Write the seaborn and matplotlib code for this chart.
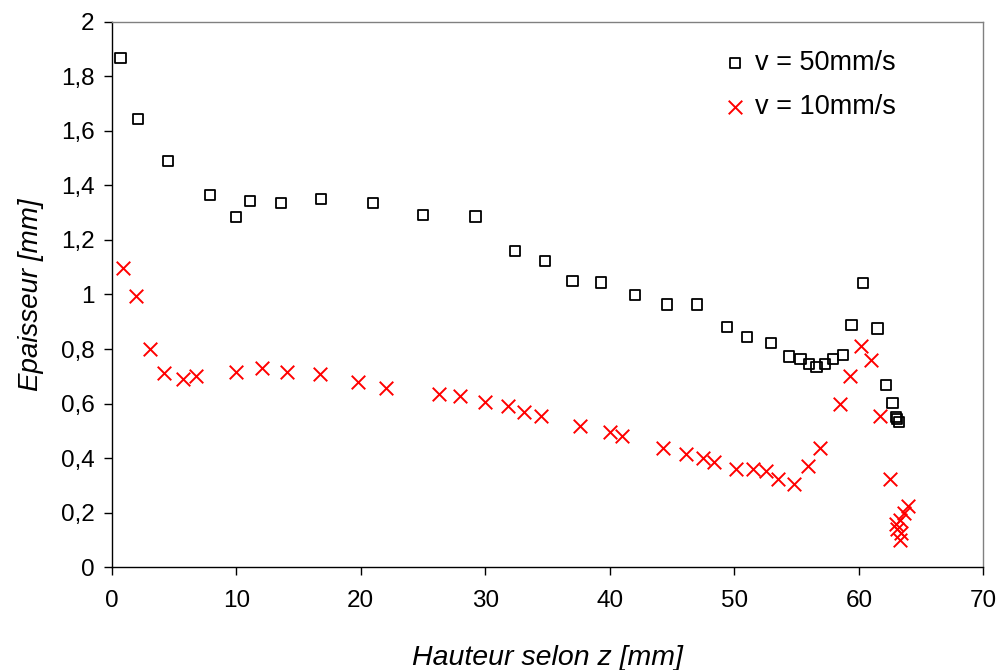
import numpy as np
import pandas as pd
import matplotlib
matplotlib.use("Agg")
import matplotlib.pyplot as plt
import seaborn as sns

# Series v = 50 mm/s (squares)
x50 = [0.7, 2.1, 4.5, 7.9, 10.0, 11.1, 13.6, 16.8, 21.0, 25.0, 29.2, 32.4, 34.8, 37.0,
       39.3, 42.0, 44.6, 47.0, 49.4, 51.0, 52.95, 54.4, 55.3, 56.0, 56.6, 57.3, 57.9,
       58.7, 59.4, 60.3, 61.5, 62.2, 62.7, 62.95, 63.05, 63.2]
y50 = [1.868, 1.644, 1.49, 1.365, 1.284, 1.343, 1.336, 1.35, 1.336, 1.292, 1.286, 1.16,
       1.123, 1.05, 1.044, 0.998, 0.963, 0.963, 0.882, 0.845, 0.823, 0.772, 0.763, 0.744,
       0.735, 0.744, 0.763, 0.779, 0.888, 1.043, 0.875, 0.668, 0.603, 0.55, 0.542, 0.532]

# Series v = 10 mm/s (crosses)
x10 = [0.93, 1.93, 3.08, 4.2, 5.75, 6.75, 9.96, 12.05, 14.1, 16.7, 19.8, 22.0, 26.3,
       27.95, 30.0, 31.8, 33.1, 34.5, 37.6, 40.0, 41.0, 44.3, 46.1, 47.5, 48.4, 50.1,
       51.5, 52.5, 53.5, 54.8, 55.9, 56.9, 58.5, 59.3, 60.2, 61.0, 61.7, 62.5, 63.9,
       63.6, 63.3, 63.0, 63.05, 63.4, 63.3]
y10 = [1.097, 0.996, 0.799, 0.711, 0.689, 0.702, 0.717, 0.731, 0.717, 0.709, 0.68, 0.658,
       0.636, 0.629, 0.607, 0.592, 0.57, 0.555, 0.518, 0.497, 0.482, 0.438, 0.416, 0.401,
       0.386, 0.358, 0.358, 0.351, 0.322, 0.306, 0.372, 0.438, 0.599, 0.702, 0.812, 0.761,
       0.555, 0.322, 0.224, 0.197, 0.172, 0.158, 0.138, 0.124, 0.1]

labels = ["v = 50mm/s", "v = 10mm/s"]
xticks = [0, 10, 20, 30, 40, 50, 60, 70]
yticks = [0, 0.2, 0.4, 0.6, 0.8, 1.0, 1.2, 1.4, 1.6, 1.8, 2.0]
yticklabels = ["0", "0,2", "0,4", "0,6", "0,8", "1", "1,2", "1,4", "1,6", "1,8", "2"]
xlabel = "Hauteur selon z [mm]"
ylabel = "Epaisseur [mm]"

sns.set_style("white")
plt.rcParams["font.family"] = ["Liberation Sans", "DejaVu Sans"]
plt.rcParams["text.color"] = "black"
plt.rcParams["axes.labelcolor"] = "black"
plt.rcParams["xtick.color"] = "black"
plt.rcParams["ytick.color"] = "black"

fig = plt.figure(figsize=(10.01, 6.70), dpi=100)
ax = fig.add_axes([0.1116, 0.1537, 0.8709, 0.8135])

df50 = pd.DataFrame({"z": x50, "e": y50})
df10 = pd.DataFrame({"z": x10, "e": y10})

sns.scatterplot(data=df50, x="z", y="e", ax=ax, marker="s", s=55,
                facecolor="none", edgecolor="black", linewidth=1.3, label=labels[0])
sns.scatterplot(data=df10, x="z", y="e", ax=ax, marker="x", s=95,
                color="#ff0000", linewidth=1.4, label=labels[1])

ax.set_xlim(0, 70)
ax.set_ylim(0, 2)
ax.set_xticks(xticks)
ax.set_xticklabels([str(t) for t in xticks])
ax.set_yticks(yticks)
ax.set_yticklabels(yticklabels)
ax.tick_params(axis="both", direction="out", length=5.5, width=1, color="black",
               labelcolor="black", labelsize=17.5, bottom=True, left=True)
ax.tick_params(axis="x", pad=11)
ax.tick_params(axis="y", pad=7)

for side in ["left", "bottom"]:
    ax.spines[side].set_color("black")
    ax.spines[side].set_linewidth(1.0)
for side in ["top", "right"]:
    ax.spines[side].set_visible(True)
    ax.spines[side].set_color("#808080")
    ax.spines[side].set_linewidth(1.0)

ax.set_xlabel(xlabel, fontsize=20.5, fontstyle="italic", labelpad=24, color="black")
ax.set_ylabel(ylabel, fontsize=20, fontstyle="italic", labelpad=12, color="black")

leg = ax.legend(loc="upper left", frameon=False, fontsize=19.5, handletextpad=0.25,
                labelspacing=0.67, borderaxespad=0.0, borderpad=0.0, handlelength=1.0,
                bbox_to_anchor=(0.6995, 0.949))
for t in leg.get_texts():
    t.set_color("black")

fig.savefig("out.png", dpi=100)
